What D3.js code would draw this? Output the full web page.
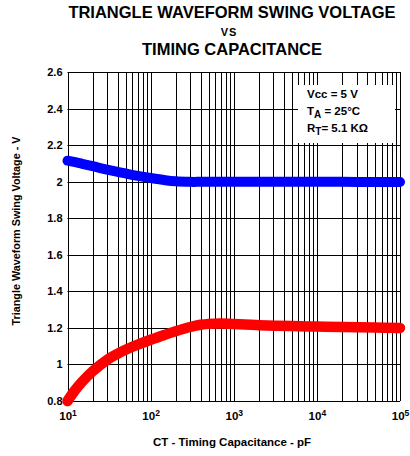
<!DOCTYPE html>
<html>
<head>
<meta charset="utf-8">
<script src="https://cdn.jsdelivr.net/npm/d3@7/dist/d3.min.js"></script>
<style>
  html, body { margin: 0; padding: 0; background: #fff; }
  svg { display: block; font-family: "Liberation Sans", Arial, sans-serif; font-weight: bold; }
</style>
</head>
<body>
<svg id="chart" width="410" height="456"></svg>
<script>
// Timing capacitance (pF) sample points
const capacitance = [10, 12, 15, 20, 30, 40, 50, 70, 100, 150, 200, 300, 400, 500, 700, 1000, 2000, 5000, 10000, 20000, 50000, 100000];
// Upper swing voltage (V)
const upperSwing = [2.115, 2.108, 2.098, 2.085, 2.066, 2.054, 2.045, 2.032, 2.02, 2.008, 2.002, 1.999, 1.999, 1.999, 2.0, 2.0, 2.0, 2.0, 1.999, 1.999, 1.998, 1.998];
// Lower swing voltage (V)
const lowerSwing = [0.80, 0.852, 0.905, 0.962, 1.025, 1.058, 1.08, 1.108, 1.135, 1.163, 1.182, 1.205, 1.217, 1.222, 1.224, 1.221, 1.215, 1.21, 1.207, 1.205, 1.202, 1.2];

const yTicks = [0.8, 1, 1.2, 1.4, 1.6, 1.8, 2, 2.2, 2.4, 2.6];
const yTickLabels = ["0.8", "1", "1.2", "1.4", "1.6", "1.8", "2", "2.2", "2.4", "2.6"];
const xDecades = [10, 100, 1000, 10000, 100000];
const xExponents = ["1", "2", "3", "4", "5"];
const conditions = [
  { main: "Vcc = 5 V", sub: "", rest: "" },
  { main: "T", sub: "A", rest: " = 25°C" },
  { main: "R", sub: "T", rest: "= 5.1 KΩ" }
];

const svg = d3.select("#chart");
const margin = { left: 67.5, right: 10, top: 72, bottom: 55 };
const W = 410, H = 456;

const x = d3.scaleLog().domain([10, 100000]).range([margin.left, W - margin.right]);
const y = d3.scaleLinear().domain([0.8, 2.6]).range([H - margin.bottom, margin.top]);

// Titles
const cx = 232;
svg.append("text").attr("x", cx).attr("y", 18).attr("text-anchor", "middle")
  .attr("font-size", 16.5).text("TRIANGLE WAVEFORM SWING VOLTAGE");
svg.append("text").attr("x", cx - 3).attr("y", 36).attr("text-anchor", "middle")
  .attr("font-size", 11).attr("letter-spacing", 1).text("VS");
svg.append("text").attr("x", cx).attr("y", 55).attr("text-anchor", "middle")
  .attr("font-size", 16.5).text("TIMING CAPACITANCE");

// Grid
const grid = svg.append("g");
const minor = [];
for (let d = 10; d < 100000; d *= 10) {
  for (let k = 2; k <= 9; k++) minor.push(d * k);
}
grid.selectAll("line.vminor").data(minor).enter().append("line")
  .attr("x1", d => Math.round(x(d)) + 0.5).attr("x2", d => Math.round(x(d)) + 0.5)
  .attr("y1", y(2.6)).attr("y2", y(0.8))
  .attr("stroke", "#000").attr("stroke-width", 1);
grid.selectAll("line.vmajor").data(xDecades).enter().append("line")
  .attr("x1", d => Math.round(x(d)) + 0.5).attr("x2", d => Math.round(x(d)) + 0.5)
  .attr("y1", y(2.6)).attr("y2", y(0.8))
  .attr("stroke", "#000").attr("stroke-width", 1);
grid.selectAll("line.h").data(yTicks).enter().append("line")
  .attr("x1", x(10)).attr("x2", x(100000))
  .attr("y1", d => Math.round(y(d)) + 0.5).attr("y2", d => Math.round(y(d)) + 0.5)
  .attr("stroke", "#000").attr("stroke-width", 1);

// Conditions box
svg.append("rect").attr("x", 298).attr("y", 85).attr("width", 97).attr("height", 58).attr("fill", "#fff");
conditions.forEach((c, i) => {
  const t = svg.append("text").attr("x", 307).attr("y", 98 + i * 17).attr("font-size", 11.5);
  t.append("tspan").text(c.main);
  if (c.sub) t.append("tspan").attr("dy", 3).attr("font-size", 10).text(c.sub);
  if (c.rest) t.append("tspan").attr("dy", c.sub ? -3 : 0).text(c.rest);
});

// Axes labels
const yAxis = d3.axisLeft(y).tickValues(yTicks).tickSize(0).tickPadding(5)
  .tickFormat((d, i) => yTickLabels[i]);
const gy = svg.append("g").attr("transform", `translate(${margin.left},0)`).call(yAxis);
gy.select(".domain").remove();
gy.selectAll("text").attr("font-size", 11).attr("font-family", null).attr("font-weight", "bold").attr("fill", "#000");

const xAxis = d3.axisBottom(x).tickValues(xDecades).tickSize(0).tickPadding(6).tickFormat(() => "");
const gx = svg.append("g").attr("transform", `translate(0,${H - margin.bottom})`).call(xAxis);
gx.select(".domain").remove();
gx.selectAll(".tick text").each(function (d, i) {
  const t = d3.select(this).attr("font-size", 11.5).attr("font-family", null)
    .attr("font-weight", "bold").attr("fill", "#000").attr("dy", "1.1em");
  t.append("tspan").text("10");
  t.append("tspan").attr("dy", -4).attr("font-size", 8.5).text(xExponents[i]);
});

svg.append("text").attr("x", 232).attr("y", 446).attr("text-anchor", "middle")
  .attr("font-size", 11.5).text("CT - Timing Capacitance - pF");
svg.append("text").attr("transform", "translate(20,231) rotate(-90)").attr("text-anchor", "middle")
  .attr("font-size", 10.8).text("Triangle Waveform Swing Voltage - V");

// Curves
const line = d3.line().x(d => x(d[0])).y(d => y(d[1])).curve(d3.curveCatmullRom.alpha(0.5));
svg.append("path").datum(capacitance.map((c, i) => [c, upperSwing[i]]))
  .attr("d", line).attr("fill", "none").attr("stroke", "#0000ff")
  .attr("stroke-width", 10).attr("stroke-linecap", "round");
svg.append("path").datum(capacitance.map((c, i) => [c, lowerSwing[i]]))
  .attr("d", line).attr("fill", "none").attr("stroke", "#ff0000")
  .attr("stroke-width", 10.5).attr("stroke-linecap", "round");
</script>
</body>
</html>
